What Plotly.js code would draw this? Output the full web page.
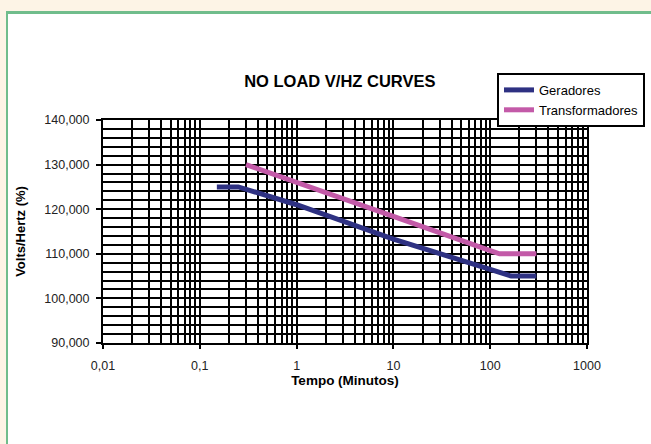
<!DOCTYPE html>
<html>
<head>
<meta charset="utf-8">
<script src="https://cdn.plot.ly/plotly-3.0.1.min.js"></script>
<style>
html,body{margin:0;padding:0;width:651px;height:444px;overflow:hidden;background:#fdf4e6;}
#frame{position:absolute;left:6px;top:11px;width:700px;height:500px;background:#ffffff;border-top:3px solid #70bd8c;border-left:2px solid #70bd8c;}
#chart{position:absolute;left:0;top:0;width:651px;height:444px;}
</style>
</head>
<body>
<div id="frame"></div>
<div id="chart"></div>
<script>
// Data
const geradoresX = [0.15, 0.25, 1, 10, 100, 165, 300];
const geradoresY = [125, 125, 121, 113.3, 106.5, 105, 105];
const transformadoresX = [0.3, 1, 10, 100, 125, 300];
const transformadoresY = [130, 126.1, 118.4, 110.7, 110, 110];

const xTickVals = [0.01, 0.1, 1, 10, 100, 1000];
const xTickText = ["0,01", "0,1", "1", "10", "100", "1000"];
const yTickVals = [90, 100, 110, 120, 130, 140];
const yTickText = ["90,000", "100,000", "110,000", "120,000", "130,000", "140,000"];

const digits = [2, 3, 4, 5, 6, 7, 8, 9];
const xMinorVals = [];
xTickVals.slice(0, -1).forEach(d => digits.forEach(k => xMinorVals.push(d * k)));

const traces = [
  {x: geradoresX, y: geradoresY, name: "Geradores", type: "scatter", mode: "lines",
   line: {color: "#2e3182", width: 5}},
  {x: transformadoresX, y: transformadoresY, name: "Transformadores", type: "scatter", mode: "lines",
   line: {color: "#c35aa8", width: 5}}
];

const layout = {
  width: 651, height: 444,
  margin: {l: 103, r: 64, t: 120, b: 101, pad: 0, autoexpand: false},
  paper_bgcolor: "rgba(0,0,0,0)",
  plot_bgcolor: "#ffffff",
  font: {family: "Liberation Sans, Arial, sans-serif", size: 12, color: "#000"},
  title: {text: "<b>NO LOAD V/HZ CURVES</b>", x: 0.522, xref: "container", xanchor: "center",
          y: 0.818, yref: "container", yanchor: "middle", automargin: false,
          font: {family: "Liberation Sans, Arial, sans-serif", size: 16.5, color: "#000"}},
  showlegend: true,
  legend: {x: 0.814, y: 1.211, xanchor: "left", yanchor: "top", xref: "paper", yref: "paper",
           bgcolor: "#ffffff", bordercolor: "#000", borderwidth: 2,
           font: {size: 13, color: "#000"}, tracegroupgap: 0, itemwidth: 30},
  xaxis: {type: "log", range: [-2, 3], tickmode: "array", tickvals: xTickVals, ticktext: xTickText,
          showgrid: true, gridcolor: "#000", gridwidth: 2, automargin: false,
          showline: true, linecolor: "#000", linewidth: 2, mirror: true,
          ticks: "outside", ticklen: 4, tickcolor: "#000", tickwidth: 2, ticklabelstandoff: 6,
          tickfont: {size: 12.5, color: "#222"}, zeroline: false,
          minor: {tickmode: "array", tickvals: xMinorVals, showgrid: true, gridcolor: "#000", gridwidth: 2, ticks: ""},
          title: {text: "<b>Tempo (Minutos)</b>", standoff: 2, font: {size: 13.5, color: "#000"}}},
  yaxis: {range: [90, 140], tickmode: "array", tickvals: yTickVals, ticktext: yTickText,
          showgrid: true, gridcolor: "#000", gridwidth: 2, automargin: false,
          showline: true, linecolor: "#000", linewidth: 2, mirror: true,
          ticks: "outside", ticklen: 5, tickcolor: "#000", tickwidth: 2, ticklabelstandoff: 4,
          tickfont: {size: 12.5, color: "#222"}, zeroline: false,
          minor: {dtick: 2, showgrid: true, gridcolor: "#000", gridwidth: 2, ticks: ""},
          title: {text: "<b>Volts/Hertz (%)</b>", standoff: 16, font: {size: 13, color: "#000"}}}
};

Plotly.newPlot("chart", traces, layout, {displayModeBar: false, staticPlot: true});
</script>
</body>
</html>
